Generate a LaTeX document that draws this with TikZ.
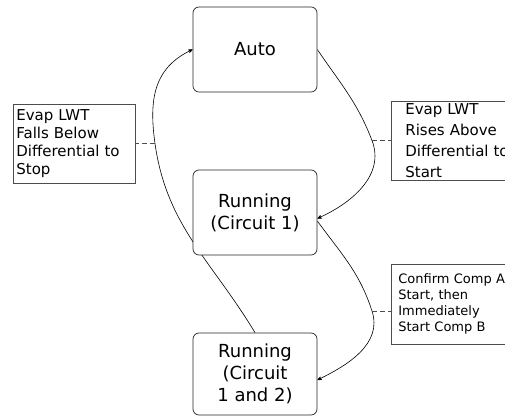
\documentclass[tikz,border=0pt]{standalone}
\usepackage{fontspec}
\setmainfont{DejaVu Sans}
\usetikzlibrary{arrows,calc,backgrounds}

\begin{document}
\begin{tikzpicture}[x=1pt,y=1pt,>=stealth',
  state/.style={draw=black!85,fill=white,rounded corners=6pt,line width=.7pt,
    minimum width=124pt,align=center,font=\fontsize{18}{22}\selectfont},
  note/.style={draw=black!70,fill=white,line width=.7pt,anchor=north west,
    align=left,inner ysep=0pt},
  link/.style={dash pattern=on 5pt off 3pt,line width=.7pt,black!70}]
\useasboundingbox (0,0) rectangle (505,417);
\clip (0,0) rectangle (505,417);

% Define the states.
\node[state,minimum height=85pt] (auto) at (255,367.5) {Auto};
\node[state,minimum height=85pt] (run1) at (255,204.5) {Running\\(Circuit 1)};
\node[state,minimum height=82pt] (run2) at (255,43) {Running\\(Circuit\\1 and 2)};

% Define the notes.
\node[note,text width=116pt,inner xsep=3pt,minimum height=79pt,
  font=\fontsize{15}{18}\selectfont] (stopnote) at (13,313)
  {Evap LWT\\Falls Below\\Differential to\\Stop};
\node[note,text width=108pt,inner xsep=14pt,minimum height=79pt,
  font=\fontsize{15}{21}\selectfont] (startnote) at (391,316)
  {Evap LWT\\Rises Above\\Differential to\\Start};
\node[note,text width=112pt,inner xsep=7pt,minimum height=80pt,
  font=\fontsize{13}{16}\selectfont] (compnote) at (391,153)
  {Confirm Comp A\\Start, then\\Immediately\\Start Comp B};

\coordinate (stopmark) at (155,273.5);
\coordinate (startmark) at (372,276.5);
\coordinate (compmark) at (372,106);

\begin{pgfonlayer}{background}
\draw[->,line width=.6pt] (run2.north) to[out=121,in=-82] (stopmark)
  to[out=98,in=205,looseness=1.1] (auto.west);
\draw[->,line width=.6pt] (auto.east) to[out=-56,in=111] (startmark)
  to[out=-69,in=24] ([yshift=-6pt]run1.east);
\draw[->,line width=.6pt] ([yshift=-8.5pt]run1.east) to[out=-54,in=108] (compmark)
  to[out=-72,in=26] ([yshift=-6pt]run2.east);
\end{pgfonlayer}

\draw[link] (stopmark) -- (stopmark -| stopnote.east);
\draw[link] (startmark) -- (startmark -| startnote.west);
\draw[link] (compmark) -- (compmark -| compnote.west);

\end{tikzpicture}
\end{document}
